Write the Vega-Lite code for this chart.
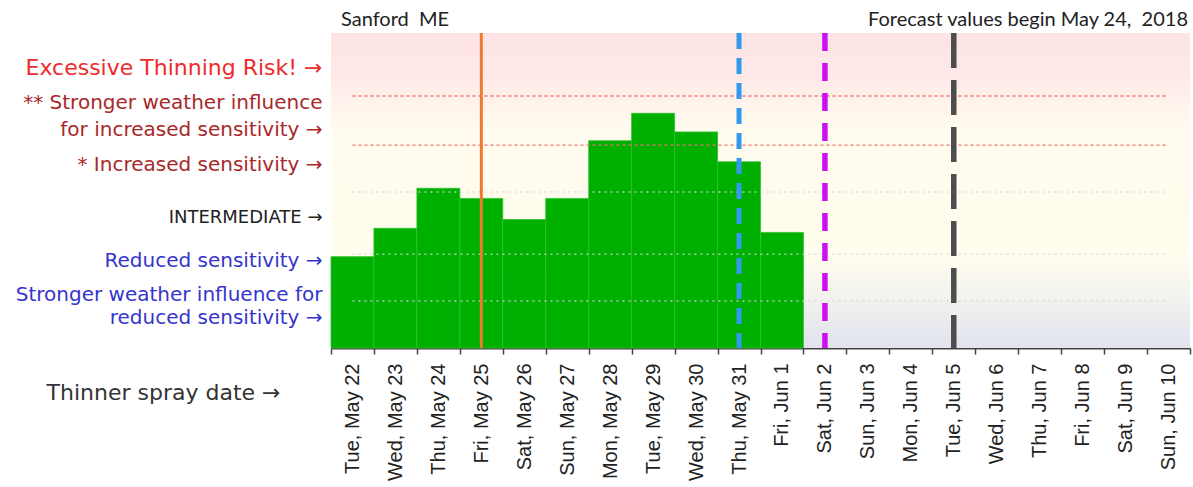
{
  "$schema": "https://vega.github.io/schema/vega-lite/v6.json",
  "width": 859,
  "height": 315,
  "autosize": {"type": "none"},
  "padding": {"left": 331, "right": 3, "top": 33, "bottom": 139},
  "background": "white",
  "config": {"view": {"stroke": null}},
  "datasets": {
    "bars": [
      {"day": "Tue, May 22", "v": 2.90},
      {"day": "Wed, May 23", "v": 3.80},
      {"day": "Thu, May 24", "v": 5.07},
      {"day": "Fri, May 25", "v": 4.75},
      {"day": "Sat, May 26", "v": 4.08},
      {"day": "Sun, May 27", "v": 4.75},
      {"day": "Mon, May 28", "v": 6.58},
      {"day": "Tue, May 29", "v": 7.45},
      {"day": "Wed, May 30", "v": 6.86},
      {"day": "Thu, May 31", "v": 5.91},
      {"day": "Fri, Jun 1", "v": 3.67}
    ],
    "levels": [
      {"level": "excessive", "v": 8.0, "x0": "Tue, May 22", "x1": "Sun, Jun 10"},
      {"level": "increased", "v": 6.44, "x0": "Tue, May 22", "x1": "Sun, Jun 10"},
      {"level": "intermediate", "v": 4.95, "x0": "Tue, May 22", "x1": "Sun, Jun 10"},
      {"level": "reduced", "v": 2.98, "x0": "Tue, May 22", "x1": "Sun, Jun 10"},
      {"level": "strongreduced", "v": 1.49, "x0": "Tue, May 22", "x1": "Sun, Jun 10"}
    ],
    "events": [
      {"event": "orange", "day": "Fri, May 25"},
      {"event": "blue", "day": "Thu, May 31"},
      {"event": "magenta", "day": "Sat, Jun 2"},
      {"event": "black", "day": "Tue, Jun 5"}
    ],
    "notes": [
      {"text": "Sanford\u00a0 ME", "day": "Tue, May 22", "y": 10.41},
      {"text": "Forecast values begin May 24,\u00a0 2018", "day": "Sun, Jun 10", "y": 10.41}
    ]
  },
  "layer": [
    {
      "data": {"values": [{"lo": 0, "hi": 10}]},
      "mark": {
        "type": "rect",
        "color": {
          "gradient": "linear", "x1": 0, "y1": 0, "x2": 0, "y2": 1,
          "stops": [
            {"offset": 0, "color": "#fde3e3"},
            {"offset": 0.14, "color": "#fee9e8"},
            {"offset": 0.3, "color": "#fffbee"},
            {"offset": 0.72, "color": "#fffdee"},
            {"offset": 1, "color": "#e1e3ee"}
          ]
        }
      },
      "encoding": {
        "y": {
          "field": "lo", "type": "quantitative",
          "scale": {"domain": [0, 10], "nice": false, "zero": false},
          "axis": {
            "title": null, "domain": false, "ticks": false, "grid": false,
            "values": [8.89, 7.78, 6.95, 5.81, 4.13, 2.79, 1.71, 0.98],
            "labelPadding": 9, "labelOverlap": false, "labelFlush": false, "labelBound": false, "labelLimit": 340,
            "labelFont": "DejaVu Sans", "labelBaseline": "middle",
            "labelExpr": "datum.value > 8.5 ? 'Excessive Thinning Risk! →' : datum.value > 7.3 ? '** Stronger weather influence' : datum.value > 6.5 ? 'for  increased sensitivity →' : datum.value > 5 ? '* Increased sensitivity →' : datum.value > 3.5 ? 'INTERMEDIATE  →' : datum.value > 2.2 ? 'Reduced sensitivity →' : datum.value > 1.3 ? 'Stronger weather influence for' : 'reduced sensitivity →'",
            "labelColor": {
              "condition": [
                {"test": "datum.value > 8.5", "value": "#ee2b2b"},
                {"test": "datum.value > 5", "value": "#a8282a"},
                {"test": "datum.value > 3.5", "value": "#222222"}
              ],
              "value": "#3535cc"
            },
            "labelFontSize": {
              "condition": [
                {"test": "datum.value > 8.5", "value": 22},
                {"test": "datum.value > 3.5 && datum.value < 5", "value": 18}
              ],
              "value": 20
            }
          }
        },
        "y2": {"field": "hi"}
      }
    },
    {
      "data": {"name": "bars"},
      "mark": {"type": "bar", "color": "#00b000", "stroke": "#30c030", "strokeWidth": 0.8},
      "encoding": {
        "x": {
          "field": "day", "type": "nominal", "sort": null,
          "scale": {
            "type": "band", "paddingInner": 0, "paddingOuter": 0,
            "domain": ["Tue, May 22", "Wed, May 23", "Thu, May 24", "Fri, May 25", "Sat, May 26", "Sun, May 27", "Mon, May 28", "Tue, May 29", "Wed, May 30", "Thu, May 31", "Fri, Jun 1", "Sat, Jun 2", "Sun, Jun 3", "Mon, Jun 4", "Tue, Jun 5", "Wed, Jun 6", "Thu, Jun 7", "Fri, Jun 8", "Sat, Jun 9", "Sun, Jun 10"]
          },
          "axis": {
            "title": "Thinner spray date →",
            "titleX": -168, "titleY": 44, "titleAngle": 0, "titleAlign": "center", "titleBaseline": "middle",
            "titleFont": "DejaVu Sans", "titleFontSize": 22, "titleFontWeight": "normal", "titleColor": "#333333",
            "labelAngle": -90, "labelFont": "Liberation Sans", "labelFontSize": 20, "labelColor": "#222222",
            "labelPadding": 9, "labelOverlap": false,
            "tickBand": "extent", "tickSize": 6, "tickColor": "#444444", "tickWidth": 1.5,
            "domainColor": "#444444", "domainWidth": 2, "grid": false
          }
        },
        "y": {"field": "v", "type": "quantitative"}
      }
    },
    {
      "data": {"name": "levels"},
      "transform": [{"filter": "datum.v > 6"}],
      "mark": {"type": "rule", "color": "#f07070", "strokeWidth": 1.3, "strokeDash": [3, 3]},
      "encoding": {
        "x": {"field": "x0", "type": "nominal"},
        "x2": {"field": "x1"},
        "y": {"field": "v", "type": "quantitative"}
      }
    },
    {
      "data": {"name": "levels"},
      "transform": [{"filter": "datum.v < 6"}],
      "mark": {"type": "rule", "color": "#d6d6d6", "opacity": 0.8, "strokeWidth": 1.5, "strokeDash": [2, 4]},
      "encoding": {
        "x": {"field": "x0", "type": "nominal"},
        "x2": {"field": "x1"},
        "y": {"field": "v", "type": "quantitative"}
      }
    },
    {
      "data": {"name": "events"},
      "transform": [{"filter": "datum.event == 'orange'"}],
      "mark": {"type": "rule", "color": "#ee7a2c", "strokeWidth": 3},
      "encoding": {"x": {"field": "day", "type": "nominal"}}
    },
    {
      "data": {"name": "events"},
      "transform": [{"filter": "datum.event == 'blue'"}],
      "mark": {"type": "rule", "color": "#3399ee", "strokeWidth": 5, "strokeDash": [16, 9]},
      "encoding": {"x": {"field": "day", "type": "nominal"}}
    },
    {
      "data": {"name": "events"},
      "transform": [{"filter": "datum.event == 'magenta'"}],
      "mark": {"type": "rule", "color": "#cc11ee", "strokeWidth": 5.5, "strokeDash": [18, 12]},
      "encoding": {"x": {"field": "day", "type": "nominal"}}
    },
    {
      "data": {"name": "events"},
      "transform": [{"filter": "datum.event == 'black'"}],
      "mark": {"type": "rule", "color": "#4d4d4d", "strokeWidth": 5.5, "strokeDash": [35, 12]},
      "encoding": {"x": {"field": "day", "type": "nominal"}}
    },
    {
      "data": {"name": "notes"},
      "transform": [{"filter": "datum.day == 'Tue, May 22'"}],
      "mark": {"type": "text", "align": "left", "baseline": "middle", "dx": 10, "font": "Lato", "fontSize": 20, "color": "#222222"},
      "encoding": {
        "x": {"field": "day", "type": "nominal", "bandPosition": 0},
        "y": {"field": "y", "type": "quantitative"},
        "text": {"field": "text"}
      }
    },
    {
      "data": {"name": "notes"},
      "transform": [{"filter": "datum.day == 'Sun, Jun 10'"}],
      "mark": {"type": "text", "align": "right", "baseline": "middle", "dx": -2, "font": "Lato", "fontSize": 20, "color": "#222222"},
      "encoding": {
        "x": {"field": "day", "type": "nominal", "bandPosition": 1},
        "y": {"field": "y", "type": "quantitative"},
        "text": {"field": "text"}
      }
    }
  ]
}
